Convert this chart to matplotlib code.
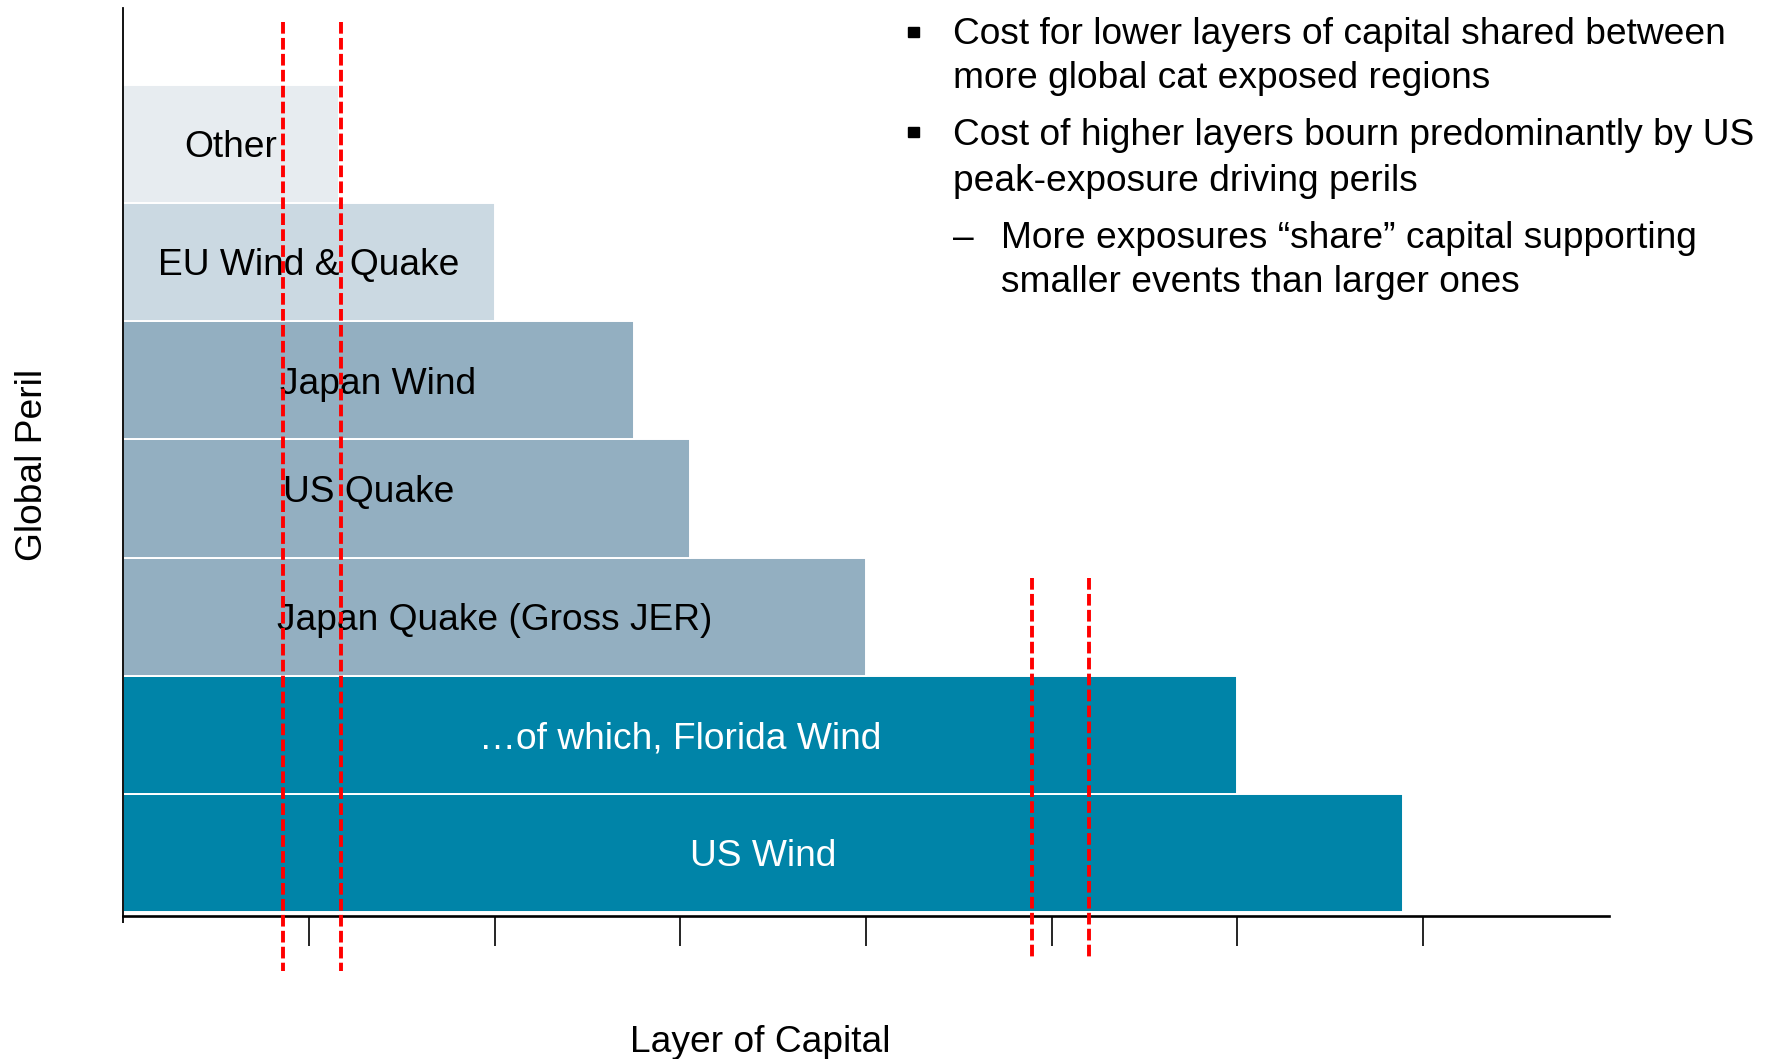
import matplotlib
matplotlib.use("Agg")
import matplotlib.pyplot as plt
from matplotlib.patches import Rectangle

plt.rcParams["font.family"] = ["Liberation Sans", "DejaVu Sans"]

# Perils, bottom row first, with the layer of capital each one reaches
perils = ["US Wind", "\u2026of which, Florida Wind", "Japan Quake (Gross JER)",
          "US Quake", "Japan Wind", "EU Wind & Quake", "Other"]
capital_reach = [6.89, 6.0, 4.0, 3.05, 2.75, 2.0, 1.16]
bar_colors = ["#0084A8", "#0084A8", "#93AFC1", "#93AFC1", "#93AFC1", "#CBD9E2", "#E7ECF0"]
text_colors = ["white", "white", "black", "black", "black", "black", "black"]

# Layer bands marked with dashed red lines
band_low = [0.863, 1.173]
band_high = [4.893, 5.203]

tick_positions = [1, 2, 3, 4, 5, 6, 7]

bullet_lines = [
    "Cost for lower layers of capital shared between",
    "more global cat exposed regions",
    "Cost of higher layers bourn predominantly by US",
    "peak-exposure driving perils",
]
sub_bullet_lines = [
    "More exposures \u201cshare\u201d capital supporting",
    "smaller events than larger ones",
]

W, H = 1769, 1059
fig = plt.figure(figsize=(W / 100, H / 100), dpi=100)


def fx(px):
    return px / W


def fy(py):
    return 1 - py / H


ax = fig.add_axes([fx(123.2), fy(915.7), fx(1608.8) - fx(123.2), fy(8.3) - fy(915.7)])

rows = list(range(len(perils)))
ax.barh(rows, capital_reach, height=1.0, left=0, color=bar_colors,
        edgecolor="white", linewidth=1.4, zorder=2)

FS = 26.7
cap_half = 0.112  # half the cap height, in row units
label_x = [w / 2 for w in capital_reach]
label_dy = [0.0] * len(perils)
label_x[3] = 1.32
label_dy[3] = 0.08
for r, name, lx, dy, tc in zip(rows, perils, label_x, label_dy, text_colors):
    ax.text(lx, r + dy - cap_half, name, ha="center", va="baseline",
            fontsize=FS, color=tc, zorder=3)

dash = (0, (3.0, 1.1))
for x in band_low:
    ax.plot([x, x], [7.03, -1.0], color="#FF0000", lw=2.8, linestyle=dash,
            clip_on=False, zorder=5)
for x in band_high:
    ax.plot([x, x], [2.326, -0.893], color="#FF0000", lw=2.8, linestyle=dash,
            clip_on=False, zorder=5)

ax.set_xlim(0, 8)
ax.set_ylim(-0.529, 7.148)
ax.spines["top"].set_visible(False)
ax.spines["right"].set_visible(False)
ax.spines["bottom"].set_linewidth(1.9)
ax.spines["left"].set_linewidth(1.3)
ax.spines["bottom"].set_zorder(4)
ax.spines["left"].set_zorder(4)

ax.set_xticks(tick_positions)
ax.set_xticklabels([])
ax.tick_params(axis="x", which="major", direction="out", length=21.6, width=1.2,
               color="black")
ax.set_xticks([0], minor=True)
ax.tick_params(axis="x", which="minor", direction="out", length=5, width=1.3)
ax.set_yticks([])

ax.set_xlabel("Layer of Capital", fontsize=FS, va="baseline")
ax.xaxis.set_label_coords((760 - 123.2) / 1485.6, (915.7 - 1052) / 907.4)
ax.set_ylabel("Global Peril", fontsize=FS, va="baseline", ha="center",
              rotation_mode="anchor")
ax.yaxis.set_label_coords((41.7 - 123.2) / 1485.6, (915.7 - 464.6) / 907.4)

# Bullet text block
baselines = [44, 88.5, 144.5, 191]
for line, b in zip(bullet_lines, baselines):
    fig.text(fx(953), fy(b), line, fontsize=FS, va="baseline", ha="left")
for top in (26.7, 126.7):
    fig.add_artist(Rectangle((fx(908.3), fy(top + 10.5)), fx(11), 10.5 / H,
                             transform=fig.transFigure, color="black"))
fig.text(fx(953), fy(247.5), "\u2013", fontsize=FS, va="baseline", ha="left")
for line, b in zip(sub_bullet_lines, [247.5, 292]):
    fig.text(fx(1001), fy(b), line, fontsize=FS, va="baseline", ha="left")

fig.savefig("out.png", dpi=100)
